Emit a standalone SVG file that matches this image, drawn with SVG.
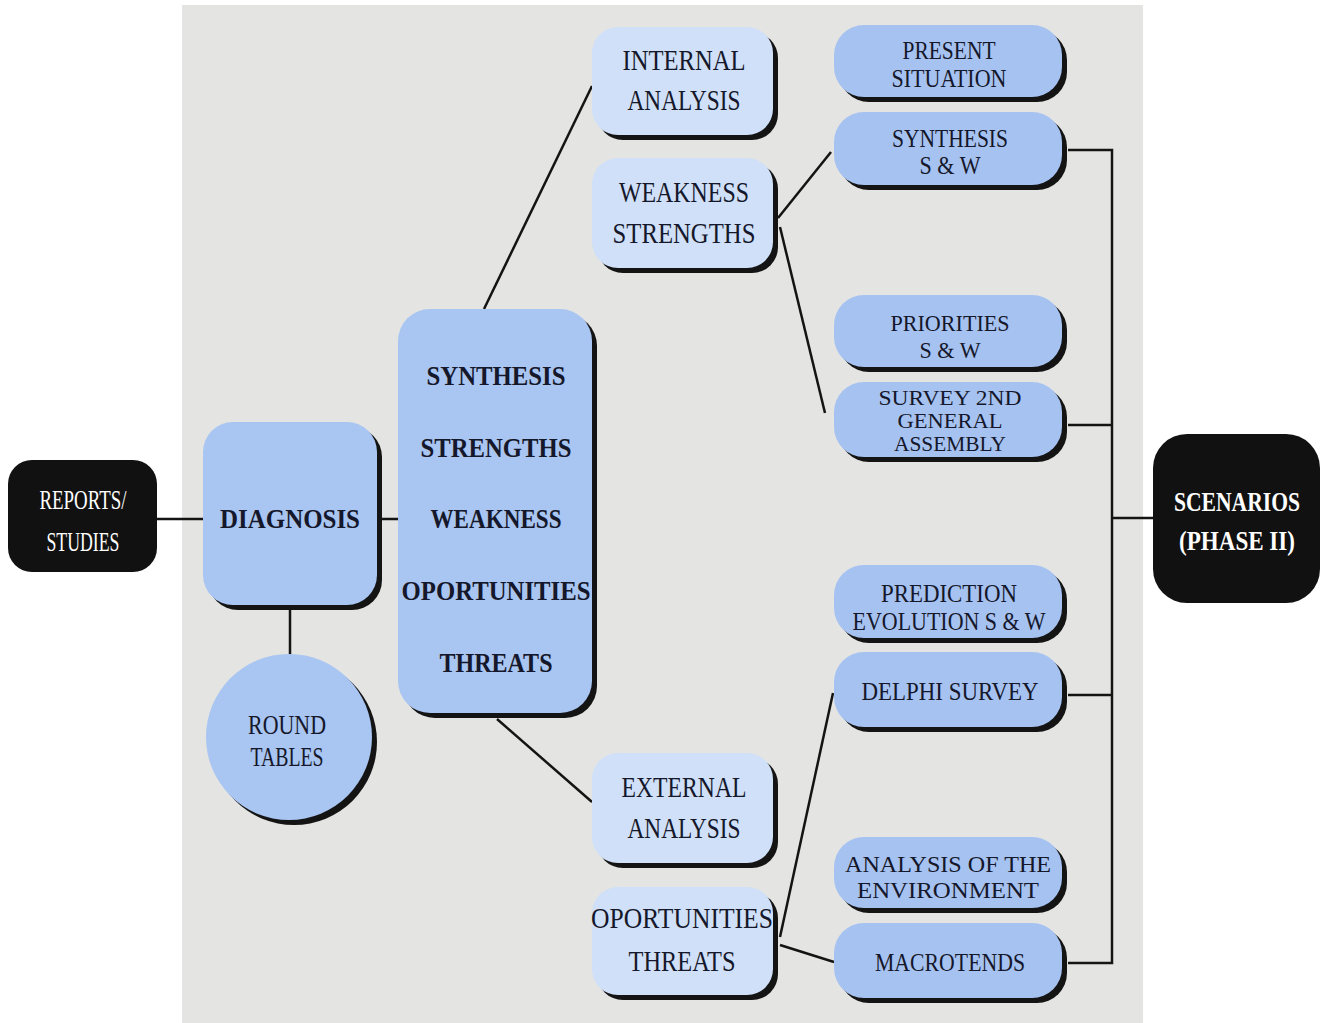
<svg xmlns="http://www.w3.org/2000/svg" width="1332" height="1023" viewBox="0 0 1332 1023">
<style>
text{font-family:"Liberation Serif","DejaVu Serif",serif;text-anchor:middle;fill:#15172a}
.w{fill:#ffffff}
.b{font-weight:bold}
.sh{fill:#141414}
.blue{fill:#a9c5f2}
.lite{fill:#cfe0f8}
.rc{fill:#a6c2f1}
.blk{fill:#111111}
.c{stroke:#141414;stroke-width:2.5;fill:none}
.f26{font-size:26px}
.f24{font-size:24px}
.f29{font-size:29px}
.f28{font-size:28px}
.f27{font-size:27px}
.f23{font-size:22px}
</style>
<rect width="1332" height="1023" fill="#ffffff"/>
<rect x="182" y="5" width="961" height="1018" fill="#e4e4e2"/>

<g id="connectors">
<line class="c" x1="157" y1="519" x2="203" y2="519"/>
<line class="c" x1="382" y1="519" x2="398" y2="519"/>
<line class="c" x1="290" y1="610" x2="290" y2="656"/>
<line class="c" x1="484" y1="309" x2="592" y2="86"/>
<line class="c" x1="497" y1="719" x2="592" y2="802"/>
<line class="c" x1="778" y1="218" x2="831" y2="152"/>
<line class="c" x1="780" y1="227" x2="825" y2="413"/>
<line class="c" x1="780" y1="937" x2="833" y2="693"/>
<line class="c" x1="780" y1="945" x2="834" y2="962"/>
<polyline class="c" points="1068,150 1112,150 1112,963 1068,963"/>
<line class="c" x1="1068" y1="425" x2="1112" y2="425"/>
<line class="c" x1="1068" y1="695" x2="1112" y2="695"/>
<line class="c" x1="1112" y1="518" x2="1153" y2="518"/>
</g>

<g id="reports">
<rect class="blk" x="8" y="460" width="149" height="112" rx="24"/>
<text class="w f27" x="83" y="509" textLength="87" lengthAdjust="spacingAndGlyphs">REPORTS/</text>
<text class="w f27" x="83" y="551" textLength="73" lengthAdjust="spacingAndGlyphs">STUDIES</text>
</g>

<g id="diagnosis">
<rect class="sh" x="208" y="427" width="174" height="183" rx="30"/>
<rect class="blue" x="203" y="422" width="174" height="183" rx="30"/>
<text class="b f28" x="290" y="528" textLength="140" lengthAdjust="spacingAndGlyphs">DIAGNOSIS</text>
</g>

<g id="round-tables">
<circle class="sh" cx="294" cy="742" r="83"/>
<circle class="blue" cx="289" cy="737" r="83"/>
<text class="f27" x="287" y="734" textLength="78" lengthAdjust="spacingAndGlyphs">ROUND</text>
<text class="f27" x="287" y="766" textLength="73" lengthAdjust="spacingAndGlyphs">TABLES</text>
</g>

<g id="swot">
<rect class="sh" x="403" y="314" width="194" height="404" rx="32"/>
<rect class="blue" x="398" y="309" width="194" height="404" rx="32"/>
<text class="b f28" x="496" y="385" textLength="139" lengthAdjust="spacingAndGlyphs">SYNTHESIS</text>
<text class="b f28" x="496" y="457" textLength="151" lengthAdjust="spacingAndGlyphs">STRENGTHS</text>
<text class="b f28" x="496" y="528" textLength="131" lengthAdjust="spacingAndGlyphs">WEAKNESS</text>
<text class="b f28" x="496" y="600" textLength="189" lengthAdjust="spacingAndGlyphs">OPORTUNITIES</text>
<text class="b f28" x="496" y="672" textLength="113" lengthAdjust="spacingAndGlyphs">THREATS</text>
</g>

<g id="internal-analysis">
<rect class="sh" x="597" y="32" width="181" height="108" rx="26"/>
<rect class="lite" x="592" y="27" width="181" height="108" rx="26"/>
<text class="f29" x="684" y="70" textLength="123" lengthAdjust="spacingAndGlyphs">INTERNAL</text>
<text class="f29" x="684" y="110" textLength="113" lengthAdjust="spacingAndGlyphs">ANALYSIS</text>
</g>

<g id="weakness-strengths">
<rect class="sh" x="597" y="163" width="181" height="110" rx="26"/>
<rect class="lite" x="592" y="158" width="181" height="110" rx="26"/>
<text class="f29" x="684" y="202" textLength="130" lengthAdjust="spacingAndGlyphs">WEAKNESS</text>
<text class="f29" x="684" y="243" textLength="143" lengthAdjust="spacingAndGlyphs">STRENGTHS</text>
</g>

<g id="external-analysis">
<rect class="sh" x="597" y="758" width="181" height="110" rx="26"/>
<rect class="lite" x="592" y="753" width="181" height="110" rx="26"/>
<text class="f29" x="684" y="797" textLength="125" lengthAdjust="spacingAndGlyphs">EXTERNAL</text>
<text class="f29" x="684" y="838" textLength="113" lengthAdjust="spacingAndGlyphs">ANALYSIS</text>
</g>

<g id="oportunities-threats">
<rect class="sh" x="597" y="892" width="181" height="108" rx="26"/>
<rect class="lite" x="592" y="887" width="181" height="108" rx="26"/>
<text class="f29" x="682" y="928" textLength="182" lengthAdjust="spacingAndGlyphs">OPORTUNITIES</text>
<text class="f29" x="682" y="971" textLength="107" lengthAdjust="spacingAndGlyphs">THREATS</text>
</g>

<g id="present-situation">
<rect class="sh" x="839" y="30" width="228" height="72" rx="30"/>
<rect class="rc" x="834" y="25" width="228" height="72" rx="30"/>
<text class="f26" x="949" y="59" textLength="93" lengthAdjust="spacingAndGlyphs">PRESENT</text>
<text class="f26" x="949" y="87" textLength="115" lengthAdjust="spacingAndGlyphs">SITUATION</text>
</g>

<g id="synthesis-sw">
<rect class="sh" x="839" y="117" width="228" height="73" rx="30"/>
<rect class="rc" x="834" y="112" width="228" height="73" rx="30"/>
<text class="f26" x="950" y="147" textLength="116" lengthAdjust="spacingAndGlyphs">SYNTHESIS</text>
<text class="f26" x="950" y="174" textLength="61" lengthAdjust="spacingAndGlyphs">S &amp; W</text>
</g>

<g id="priorities-sw">
<rect class="sh" x="839" y="300" width="228" height="72" rx="30"/>
<rect class="rc" x="834" y="295" width="228" height="72" rx="30"/>
<text class="f24" x="950" y="331" textLength="119" lengthAdjust="spacingAndGlyphs">PRIORITIES</text>
<text class="f24" x="950" y="358" textLength="61" lengthAdjust="spacingAndGlyphs">S &amp; W</text>
</g>

<g id="survey-2nd">
<rect class="sh" x="839" y="387" width="228" height="75" rx="30"/>
<rect class="rc" x="834" y="382" width="228" height="75" rx="30"/>
<text class="f23" x="950" y="405" textLength="143" lengthAdjust="spacingAndGlyphs">SURVEY 2ND</text>
<text class="f23" x="950" y="428" textLength="105" lengthAdjust="spacingAndGlyphs">GENERAL</text>
<text class="f23" x="950" y="451" textLength="112" lengthAdjust="spacingAndGlyphs">ASSEMBLY</text>
</g>

<g id="prediction">
<rect class="sh" x="839" y="570" width="228" height="73" rx="30"/>
<rect class="rc" x="834" y="565" width="228" height="73" rx="30"/>
<text class="f26" x="949" y="602" textLength="136" lengthAdjust="spacingAndGlyphs">PREDICTION</text>
<text class="f26" x="949" y="630" textLength="193" lengthAdjust="spacingAndGlyphs">EVOLUTION S &amp; W</text>
</g>

<g id="delphi-survey">
<rect class="sh" x="839" y="657" width="228" height="75" rx="30"/>
<rect class="rc" x="834" y="652" width="228" height="75" rx="30"/>
<text class="f26" x="950" y="700" textLength="177" lengthAdjust="spacingAndGlyphs">DELPHI SURVEY</text>
</g>

<g id="analysis-environment">
<rect class="sh" x="839" y="842" width="228" height="71" rx="30"/>
<rect class="rc" x="834" y="837" width="228" height="71" rx="30"/>
<text class="f24" x="948" y="872" textLength="206" lengthAdjust="spacingAndGlyphs">ANALYSIS OF THE</text>
<text class="f24" x="948" y="898" textLength="182" lengthAdjust="spacingAndGlyphs">ENVIRONMENT</text>
</g>

<g id="macrotends">
<rect class="sh" x="839" y="928" width="228" height="75" rx="30"/>
<rect class="rc" x="834" y="923" width="228" height="75" rx="30"/>
<text class="f26" x="950" y="971" textLength="150" lengthAdjust="spacingAndGlyphs">MACROTENDS</text>
</g>

<g id="scenarios">
<rect class="blk" x="1153" y="434" width="167" height="169" rx="34"/>
<text class="w b f27" x="1237" y="511" textLength="126" lengthAdjust="spacingAndGlyphs">SCENARIOS</text>
<text class="w b f27" x="1237" y="550" textLength="116" lengthAdjust="spacingAndGlyphs">(PHASE II)</text>
</g>
</svg>
